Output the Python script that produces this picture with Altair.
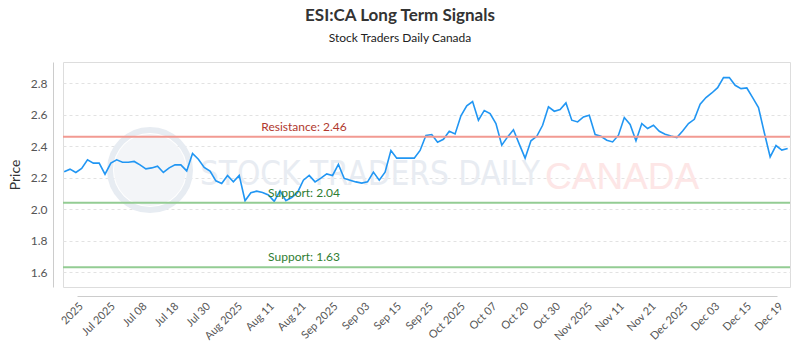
import altair as alt
import pandas as pd

# ---- data ----
prices = [
    2.237, 2.254, 2.233, 2.258, 2.313, 2.292, 2.292, 2.222, 2.292, 2.313,
    2.298, 2.298, 2.303, 2.281, 2.256, 2.262, 2.273, 2.233, 2.262, 2.281,
    2.281, 2.243, 2.354, 2.317, 2.265, 2.241, 2.180, 2.163, 2.214, 2.173,
    2.214, 2.053, 2.104, 2.114, 2.106, 2.090, 2.049, 2.116, 2.053, 2.074,
    2.106, 2.184, 2.214, 2.173, 2.197, 2.224, 2.214, 2.284, 2.195, 2.184,
    2.173, 2.165, 2.173, 2.235, 2.184, 2.235, 2.373, 2.324, 2.324, 2.324,
    2.324, 2.373, 2.468, 2.474, 2.425, 2.444, 2.495, 2.478, 2.593, 2.656,
    2.684, 2.565, 2.627, 2.607, 2.544, 2.406, 2.459, 2.504, 2.413, 2.324,
    2.434, 2.463, 2.533, 2.650, 2.622, 2.633, 2.675, 2.565, 2.554, 2.586,
    2.597, 2.474, 2.463, 2.438, 2.427, 2.470, 2.582, 2.538, 2.434, 2.544,
    2.512, 2.533, 2.495, 2.476, 2.465, 2.455, 2.497, 2.544, 2.571, 2.667,
    2.709, 2.738, 2.772, 2.836, 2.836, 2.787, 2.766, 2.770, 2.709, 2.646,
    2.485, 2.332, 2.404, 2.375, 2.385,
]

tick_labels = [
    "2025", "Jul 2025", "Jul 08", "Jul 18", "Jul 30", "Aug 2025", "Aug 11",
    "Aug 21", "Sep 2025", "Sep 03", "Sep 15", "Sep 25", "Oct 2025", "Oct 07",
    "Oct 20", "Oct 30", "Nov 2025", "Nov 11", "Nov 21", "Dec 2025", "Dec 03",
    "Dec 15", "Dec 19",
]

level_kinds = ["Resistance", "Support", "Support"]
level_values = [2.46, 2.04, 1.63]

y_ticks = [1.6, 1.8, 2.0, 2.2, 2.4, 2.6, 2.8]

# ---- tables ----
df = pd.DataFrame({"idx": list(range(len(prices))), "price": prices})
levels = pd.DataFrame({"kind": level_kinds, "value": level_values})
levels["label"] = [f"{k}: {v:.2f}" for k, v in zip(level_kinds, level_values)]
ticks_df = pd.DataFrame({"label": tick_labels})

W, H = 727, 225
FONT = "Lato"

y_scale = alt.Scale(domain=[1.505, 2.935], nice=False, zero=False)
y_axis = alt.Axis(title="Price", values=y_ticks, format=".1f", offset=10,
                  grid=True, gridDash=[3, 3], gridColor="#e2e2e2",
                  domainColor="#cccccc", ticks=False, labelPadding=6,
                  labelOverlap=False, labelFlush=False,
                  titlePadding=8, labelFontSize=12, labelColor="#555555",
                  labelFont=FONT, titleFont=FONT, titleFontSize=14,
                  titleColor="#333333", titleFontWeight="normal")

# ---- watermark ----
one = pd.DataFrame({"a": [0]})
wm_fill = alt.Chart(one).mark_point(
    shape="circle", filled=True, size=5200, color="#f3f5f8", opacity=1
).encode(x=alt.value(87), y=alt.value(108))
wm_ring = alt.Chart(one).mark_point(
    shape="circle", filled=False, size=6400, stroke="#e7ecf2", strokeWidth=6, opacity=1
).encode(x=alt.value(87), y=alt.value(108))
wm_text1 = alt.Chart(pd.DataFrame({"t": ["STOCK TRADERS DAILY"]})).mark_text(
    align="left", baseline="middle", fontSize=33,
    font="Liberation Sans Narrow, DejaVu Sans Condensed, sans-serif",
    color="#e8ecf2",
).encode(x=alt.value(137), y=alt.value(113), text="t:N")
wm_text2 = alt.Chart(pd.DataFrame({"t": ["CANADA"]})).mark_text(
    align="left", baseline="middle", fontSize=37,
    font="Liberation Sans, Arial, sans-serif", color="#fde6e6",
).encode(x=alt.value(482), y=alt.value(116), text="t:N")

# ---- price line ----
line = alt.Chart(df).mark_line(color="#2196F3", strokeWidth=1.6).encode(
    x=alt.X("idx:Q", scale=alt.Scale(domain=[-0.2, len(prices) - 0.6], nice=False),
            axis=None),
    y=alt.Y("price:Q", scale=y_scale, axis=y_axis),
)

rules = alt.Chart(levels).mark_rule(strokeWidth=2).encode(
    y=alt.Y("value:Q", scale=y_scale, axis=y_axis),
    color=alt.Color("kind:N", scale=alt.Scale(domain=["Resistance", "Support"],
                                              range=["#f29a92", "#93cc93"]),
                    legend=None),
)

rule_text = alt.Chart(levels).mark_text(
    align="center", baseline="bottom", dy=-3, fontSize=12, font=FONT
).encode(
    x=alt.value(241),
    y=alt.Y("value:Q", scale=y_scale, axis=y_axis),
    text="label:N",
    color=alt.Color("kind:N", scale=alt.Scale(domain=["Resistance", "Support"],
                                              range=["#b0382e", "#2f7d32"]),
                    legend=None),
)

x_axis = alt.Chart(ticks_df).mark_point(opacity=0).encode(
    x=alt.X("label:N", sort=tick_labels,
            scale=alt.Scale(type="point", range=[14, 714], padding=0),
            axis=alt.Axis(title=None, orient="bottom", labelAngle=-45, offset=9,
                          domainColor="#cccccc", ticks=False, labelFontSize=11,
                          labelFont=FONT, labelColor="#555555", labelPadding=4,
                          labelOverlap=False)),
    y=alt.value(0),
)

chart = alt.layer(
    wm_fill, wm_ring, wm_text1, wm_text2, line, rules, rule_text, x_axis
).resolve_scale(
    x="independent", color="independent"
).properties(
    width=W, height=H,
    title=alt.TitleParams(
        "ESI:CA Long Term Signals", subtitle="Stock Traders Daily Canada",
        anchor="middle", frame="group", dx=-26.5, fontSize=17, font=FONT,
        fontWeight="bold", color="#333333", subtitleFont=FONT,
        subtitleFontSize=12, subtitleColor="#222222", offset=14,
        subtitlePadding=8,
    ),
    autosize=alt.AutoSizeParams(type="none"),
    padding={"left": 63, "top": 62, "right": 10, "bottom": 63},
).configure_view(
    stroke="#8a8a8a", strokeWidth=1.5
).configure(background="white")

chart.save("out.html", embed_options={"renderer": "svg", "actions": False})
